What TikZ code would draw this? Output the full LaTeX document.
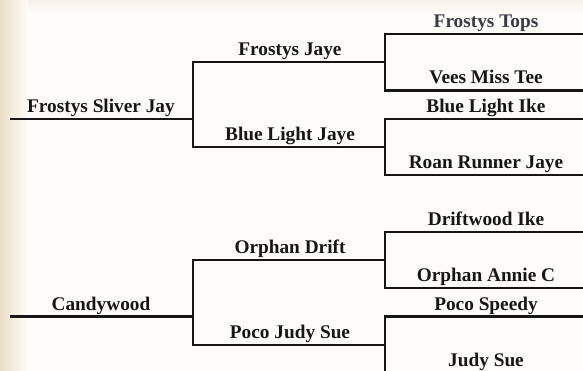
\documentclass[tikz,border=0pt]{standalone}
\usepackage{fontspec}
\setmainfont{Liberation Serif}
\usepackage{tikz}
\usetikzlibrary{positioning}
\usepackage{xcolor}
\definecolor{paper}{RGB}{253,252,249}
\definecolor{edge}{RGB}{235,222,200}
\definecolor{ink}{RGB}{22,22,22}
\definecolor{faded}{RGB}{58,58,72}

\begin{document}
\begin{tikzpicture}[x=1pt,y=-1pt,
horse/.style={font=\bfseries\fontsize{19.3}{22}\selectfont,text=ink,
anchor=base,inner sep=0pt},
link/.style={draw=ink,line width=2.2pt}]
% paper
\fill[paper] (0,0) rectangle (583,371);
\shade[top color=edge!40,bottom color=paper] (0,0) rectangle (583,14);
\shade[left color=edge,right color=paper] (0,0) rectangle (28,371);
\useasboundingbox (0,0) rectangle (583,371);

% sire side
\coordinate (fsjL) at (10,118.75);
\coordinate (fsjR) at (193,118.75);
\coordinate (fjL) at (193,62.25);
\coordinate (fjR) at (385,62.25);
\coordinate (bljL) at (193,147);
\coordinate (bljR) at (385,147);
\coordinate (ftL) at (385,34);
\coordinate (ftR) at (583,34);
\coordinate (vmtL) at (385,90.5);
\coordinate (vmtR) at (583,90.5);
\coordinate (bliL) at (385,118.75);
\coordinate (bliR) at (583,118.75);
\coordinate (rrjL) at (385,175.25);
\coordinate (rrjR) at (583,175.25);

\node[horse] (fsj) at (101,112.25) {Frostys Sliver Jay};
\node[horse] (fj) at (290,55.75) {Frostys Jaye};
\node[horse] (blj) at (290,140.5) {Blue Light Jaye};
\node[horse,text=faded] (ft) at (486,27.5) {Frostys Tops};
\node[horse] (vmt) at (486,84) {Vees Miss Tee};
\node[horse] (bli) at (486,112.25) {Blue Light Ike};
\node[horse] (rrj) at (486,168.75) {Roan Runner Jaye};

\draw[link] (fsjL) -- (fsjR);
\draw[link] (fjR) -- (fjL) |- (bljR);
\draw[link] (ftR) -- (ftL) |- (vmtR);
\draw[link] (bliR) -- (bliL) |- (rrjR);

% dam side
\coordinate (cwL) at (10,316.5);
\coordinate (cwR) at (193,316.5);
\coordinate (odL) at (193,260);
\coordinate (odR) at (385,260);
\coordinate (pjsL) at (193,344.75);
\coordinate (pjsR) at (385,344.75);
\coordinate (diL) at (385,231.75);
\coordinate (diR) at (583,231.75);
\coordinate (oacL) at (385,288.25);
\coordinate (oacR) at (583,288.25);
\coordinate (psL) at (385,316.5);
\coordinate (psR) at (583,316.5);
\coordinate (jsL) at (385,373);
\coordinate (jsR) at (583,373);

\node[horse] (cw) at (101,310) {Candywood};
\node[horse] (od) at (290,253.5) {Orphan Drift};
\node[horse] (pjs) at (290,338.25) {Poco Judy Sue};
\node[horse] (di) at (486,225.25) {Driftwood Ike};
\node[horse] (oac) at (486,281.75) {Orphan Annie C};
\node[horse] (ps) at (486,310) {Poco Speedy};
\node[horse] (js) at (486,366.5) {Judy Sue};

\draw[link] (cwL) -- (cwR);
\draw[link] (odR) -- (odL) |- (pjsR);
\draw[link] (diR) -- (diL) |- (oacR);
\draw[link] (psR) -- (psL) |- (jsR);
\end{tikzpicture}
\end{document}
